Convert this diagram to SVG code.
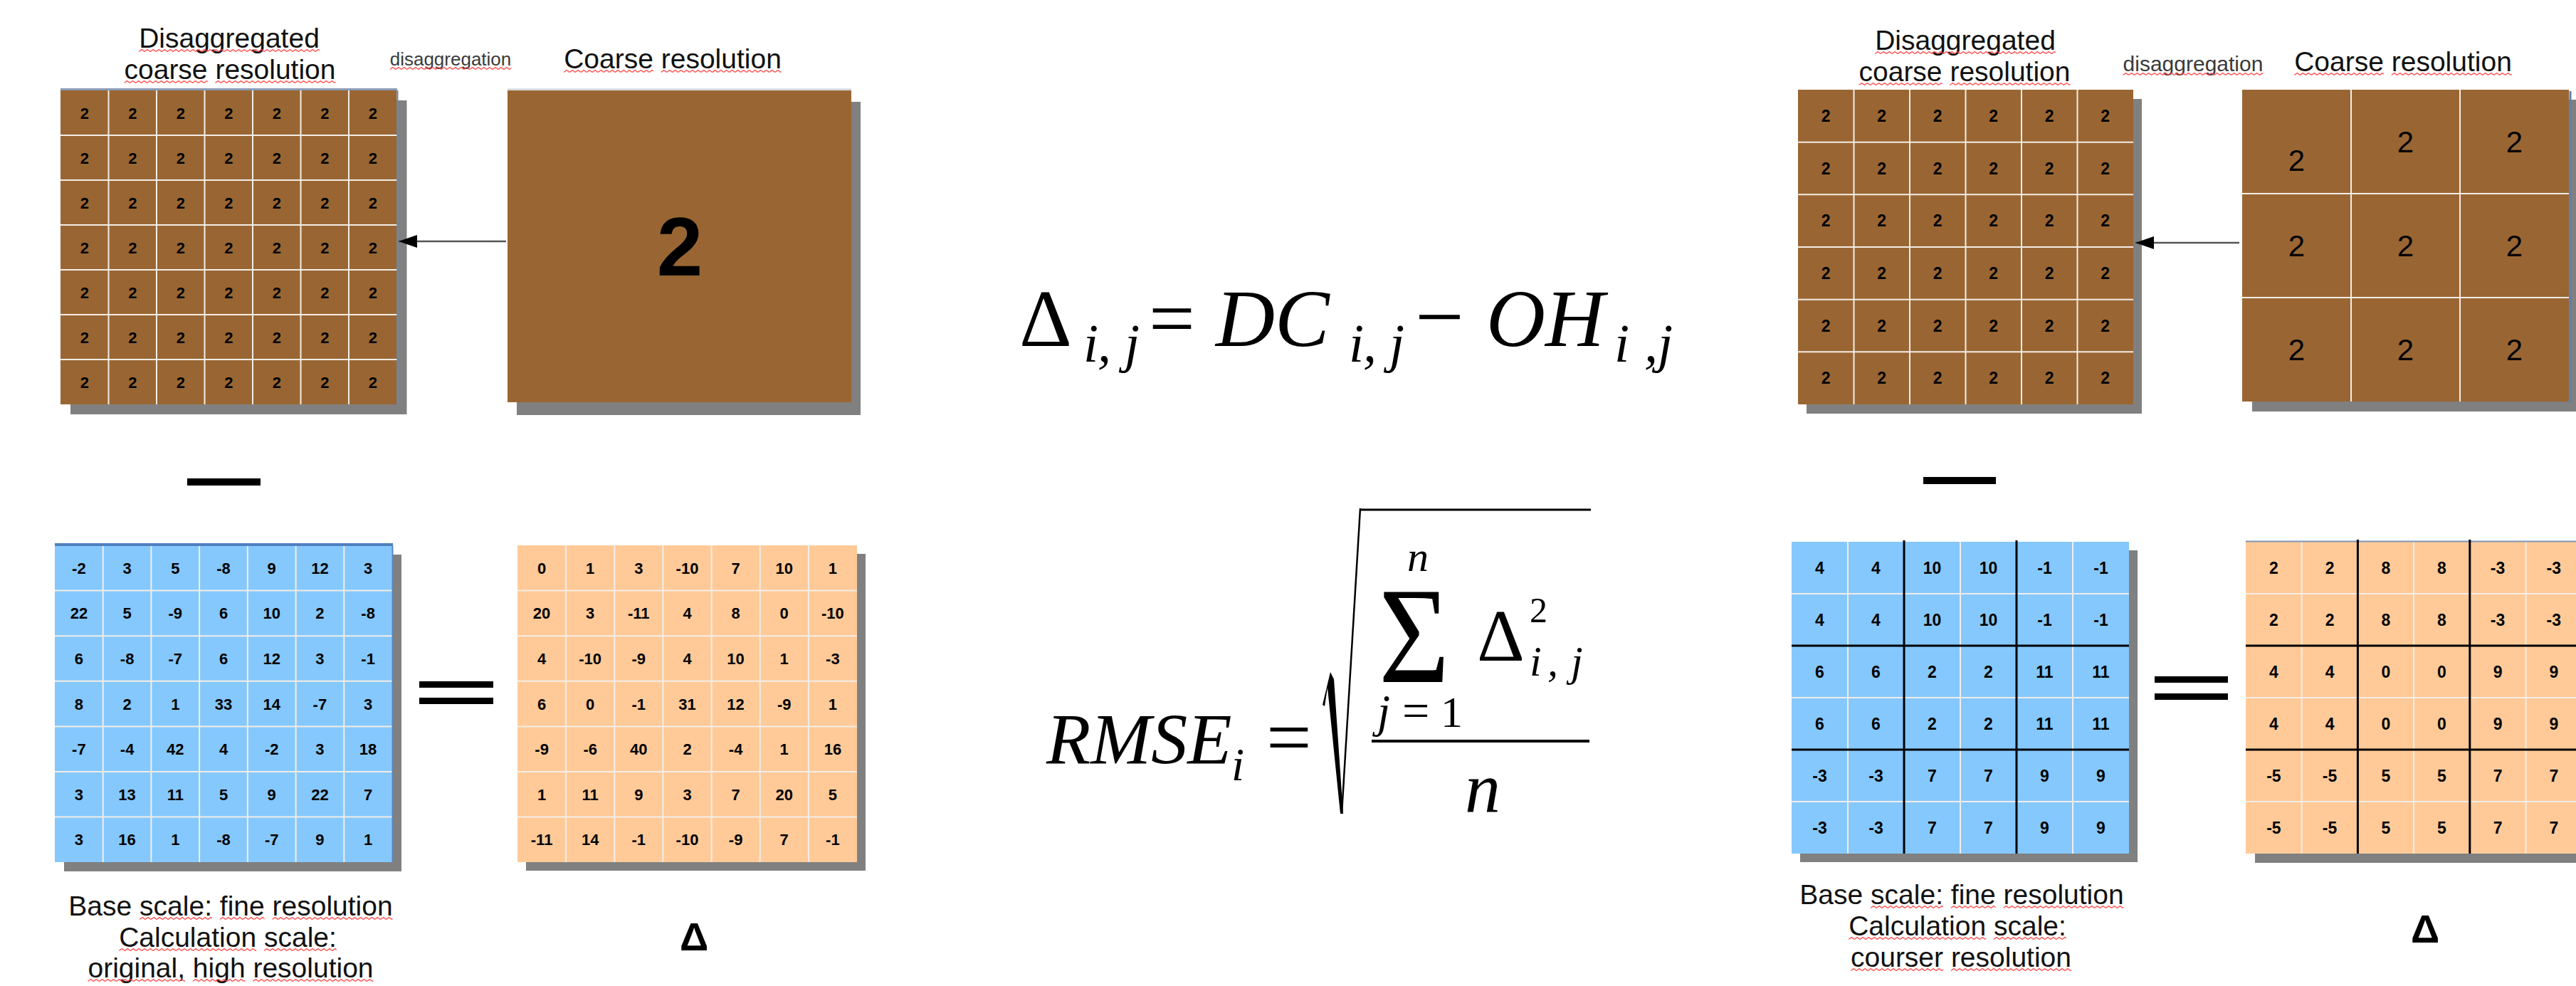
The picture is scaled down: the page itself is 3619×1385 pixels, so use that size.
<svg xmlns="http://www.w3.org/2000/svg" width="3619" height="1385" viewBox="0 0 3619 1385">
<style>
.t{font-family:"Liberation Sans",Arial,sans-serif;fill:#111}
.title{font-size:39px;text-anchor:middle}
.small{font-size:26px;fill:#3a3a3a;text-anchor:middle}
.sm2{font-size:30px;fill:#3a3a3a;text-anchor:middle}
.n{font-family:"Liberation Sans",Arial,sans-serif;font-weight:bold;font-size:22px;text-anchor:middle;fill:#000}
.n2{font-family:"Liberation Sans",Arial,sans-serif;font-weight:bold;font-size:23px;text-anchor:middle;fill:#000}
.big{font-family:"Liberation Sans",Arial,sans-serif;font-weight:bold;text-anchor:middle;fill:#000}
.co{font-family:"Liberation Sans",Arial,sans-serif;font-size:42px;text-anchor:middle;fill:#000}
.m{font-family:"Liberation Serif","Times New Roman",serif;fill:#000}
.mi{font-family:"Liberation Serif","Times New Roman",serif;font-style:italic;fill:#000}
.brown{fill:#996633}
.blue{fill:#85c8fd}
.orange{fill:#ffca98}
.shadow{fill:#808080}
.gl{stroke:#f3ede6;stroke-width:2;fill:none}
.thick{stroke:#000;stroke-width:3;fill:none}
.conn{stroke:#555;stroke-width:2.5;fill:none}
.wv{fill:url(#wave)}
</style>
<defs>
<marker id="ah" markerUnits="userSpaceOnUse" markerWidth="26" markerHeight="18" refX="26" refY="9" orient="auto" viewBox="0 0 26 18">
<path d="M0,0 L26,9 L0,18 z" fill="#000"/>
</marker>
<pattern id="wave" patternUnits="userSpaceOnUse" width="8" height="6">
<path d="M0,4.5 L4,1.5 L8,4.5" fill="none" stroke="#ff3b3b" stroke-width="1.3"/>
</pattern>
</defs>
<rect width="3619" height="1385" fill="#fff"/>

<!-- Left panel titles -->
<g id="left-titles" class="t">
<text class="title" x="322" y="67">Disaggregated</text>
<text class="title" x="323" y="111">coarse resolution</text>
<text class="small" x="633" y="92">disaggregation</text>
<text class="title" x="945" y="96">Coarse resolution</text>
</g>

<!-- Left disaggregated brown grid 7x7 -->
<g id="left-disagg-grid">
<rect class="shadow" x="99" y="141" width="472.5" height="441"/>
<rect class="brown" x="85" y="127" width="472.5" height="441"/>
<path class="gl" d="M152.5 127V568M220 127V568M287.5 127V568M355 127V568M422.5 127V568M490 127V568M85 190H557.5M85 253H557.5M85 316H557.5M85 379H557.5M85 442H557.5M85 505H557.5"/>
<line x1="85" y1="125.5" x2="558" y2="125.5" stroke="#8a9bb5" stroke-width="3"/>
<line x1="558.5" y1="127" x2="558.5" y2="568" stroke="#6b87b5" stroke-width="2"/>
<g class="n">
<text y="166.5"><tspan x="118.75">2</tspan><tspan x="186.25">2</tspan><tspan x="253.75">2</tspan><tspan x="321.25">2</tspan><tspan x="388.75">2</tspan><tspan x="456.25">2</tspan><tspan x="523.75">2</tspan></text>
<text y="229.5"><tspan x="118.75">2</tspan><tspan x="186.25">2</tspan><tspan x="253.75">2</tspan><tspan x="321.25">2</tspan><tspan x="388.75">2</tspan><tspan x="456.25">2</tspan><tspan x="523.75">2</tspan></text>
<text y="292.5"><tspan x="118.75">2</tspan><tspan x="186.25">2</tspan><tspan x="253.75">2</tspan><tspan x="321.25">2</tspan><tspan x="388.75">2</tspan><tspan x="456.25">2</tspan><tspan x="523.75">2</tspan></text>
<text y="355.5"><tspan x="118.75">2</tspan><tspan x="186.25">2</tspan><tspan x="253.75">2</tspan><tspan x="321.25">2</tspan><tspan x="388.75">2</tspan><tspan x="456.25">2</tspan><tspan x="523.75">2</tspan></text>
<text y="418.5"><tspan x="118.75">2</tspan><tspan x="186.25">2</tspan><tspan x="253.75">2</tspan><tspan x="321.25">2</tspan><tspan x="388.75">2</tspan><tspan x="456.25">2</tspan><tspan x="523.75">2</tspan></text>
<text y="481.5"><tspan x="118.75">2</tspan><tspan x="186.25">2</tspan><tspan x="253.75">2</tspan><tspan x="321.25">2</tspan><tspan x="388.75">2</tspan><tspan x="456.25">2</tspan><tspan x="523.75">2</tspan></text>
<text y="544.5"><tspan x="118.75">2</tspan><tspan x="186.25">2</tspan><tspan x="253.75">2</tspan><tspan x="321.25">2</tspan><tspan x="388.75">2</tspan><tspan x="456.25">2</tspan><tspan x="523.75">2</tspan></text>
</g>
</g>

<!-- Left coarse box -->
<g id="left-coarse">
<rect class="shadow" x="726" y="143" width="483" height="440"/>
<rect class="brown" x="713" y="127" width="483" height="438"/>
<line x1="713" y1="125.5" x2="1196" y2="125.5" stroke="#c9cfd8" stroke-width="2"/>
<text class="big" x="955" y="387" font-size="116">2</text>
</g>

<!-- Left minus -->
<rect id="left-minus" x="263" y="672" width="103" height="10" fill="#000"/>

<!-- Left blue grid 7x7 -->
<g id="left-fine-grid">
<rect class="shadow" x="90" y="779" width="474" height="445"/>
<rect class="blue" x="77" y="766" width="474" height="445"/>
<path class="gl" d="M144.7 766V1211M212.4 766V1211M280.1 766V1211M347.9 766V1211M415.6 766V1211M483.3 766V1211M77 829.6H551M77 893.2H551M77 956.8H551M77 1020.4H551M77 1084H551M77 1147.6H551"/>
<line x1="77" y1="765" x2="552" y2="765" stroke="#4f80bf" stroke-width="4"/>
<line x1="551.5" y1="766" x2="551.5" y2="1211" stroke="#5b86c2" stroke-width="2"/>
<g class="n">
<text y="805.8"><tspan x="110.9">-2</tspan><tspan x="178.6">3</tspan><tspan x="246.3">5</tspan><tspan x="314">-8</tspan><tspan x="381.7">9</tspan><tspan x="449.4">12</tspan><tspan x="517.1">3</tspan></text>
<text y="869.4"><tspan x="110.9">22</tspan><tspan x="178.6">5</tspan><tspan x="246.3">-9</tspan><tspan x="314">6</tspan><tspan x="381.7">10</tspan><tspan x="449.4">2</tspan><tspan x="517.1">-8</tspan></text>
<text y="933"><tspan x="110.9">6</tspan><tspan x="178.6">-8</tspan><tspan x="246.3">-7</tspan><tspan x="314">6</tspan><tspan x="381.7">12</tspan><tspan x="449.4">3</tspan><tspan x="517.1">-1</tspan></text>
<text y="996.6"><tspan x="110.9">8</tspan><tspan x="178.6">2</tspan><tspan x="246.3">1</tspan><tspan x="314">33</tspan><tspan x="381.7">14</tspan><tspan x="449.4">-7</tspan><tspan x="517.1">3</tspan></text>
<text y="1060.2"><tspan x="110.9">-7</tspan><tspan x="178.6">-4</tspan><tspan x="246.3">42</tspan><tspan x="314">4</tspan><tspan x="381.7">-2</tspan><tspan x="449.4">3</tspan><tspan x="517.1">18</tspan></text>
<text y="1123.8"><tspan x="110.9">3</tspan><tspan x="178.6">13</tspan><tspan x="246.3">11</tspan><tspan x="314">5</tspan><tspan x="381.7">9</tspan><tspan x="449.4">22</tspan><tspan x="517.1">7</tspan></text>
<text y="1187.4"><tspan x="110.9">3</tspan><tspan x="178.6">16</tspan><tspan x="246.3">1</tspan><tspan x="314">-8</tspan><tspan x="381.7">-7</tspan><tspan x="449.4">9</tspan><tspan x="517.1">1</tspan></text>
</g>
</g>

<!-- Left equals -->
<g id="left-equals" fill="#000">
<rect x="589" y="957" width="104" height="9"/>
<rect x="589" y="980" width="104" height="9"/>
</g>

<!-- Left orange grid 7x7 -->
<g id="left-delta-grid">
<rect class="shadow" x="739" y="778" width="477" height="445"/>
<rect class="orange" x="727" y="766" width="477" height="445"/>
<path class="gl" d="M795.1 766V1211M863.3 766V1211M931.4 766V1211M999.6 766V1211M1067.7 766V1211M1135.9 766V1211M727 829.6H1204M727 893.2H1204M727 956.8H1204M727 1020.4H1204M727 1084H1204M727 1147.6H1204"/>
<g class="n">
<text y="805.8"><tspan x="761.1">0</tspan><tspan x="829.2">1</tspan><tspan x="897.3">3</tspan><tspan x="965.5">-10</tspan><tspan x="1033.6">7</tspan><tspan x="1101.7">10</tspan><tspan x="1169.9">1</tspan></text>
<text y="869.4"><tspan x="761.1">20</tspan><tspan x="829.2">3</tspan><tspan x="897.3">-11</tspan><tspan x="965.5">4</tspan><tspan x="1033.6">8</tspan><tspan x="1101.7">0</tspan><tspan x="1169.9">-10</tspan></text>
<text y="933"><tspan x="761.1">4</tspan><tspan x="829.2">-10</tspan><tspan x="897.3">-9</tspan><tspan x="965.5">4</tspan><tspan x="1033.6">10</tspan><tspan x="1101.7">1</tspan><tspan x="1169.9">-3</tspan></text>
<text y="996.6"><tspan x="761.1">6</tspan><tspan x="829.2">0</tspan><tspan x="897.3">-1</tspan><tspan x="965.5">31</tspan><tspan x="1033.6">12</tspan><tspan x="1101.7">-9</tspan><tspan x="1169.9">1</tspan></text>
<text y="1060.2"><tspan x="761.1">-9</tspan><tspan x="829.2">-6</tspan><tspan x="897.3">40</tspan><tspan x="965.5">2</tspan><tspan x="1033.6">-4</tspan><tspan x="1101.7">1</tspan><tspan x="1169.9">16</tspan></text>
<text y="1123.8"><tspan x="761.1">1</tspan><tspan x="829.2">11</tspan><tspan x="897.3">9</tspan><tspan x="965.5">3</tspan><tspan x="1033.6">7</tspan><tspan x="1101.7">20</tspan><tspan x="1169.9">5</tspan></text>
<text y="1187.4"><tspan x="761.1">-11</tspan><tspan x="829.2">14</tspan><tspan x="897.3">-1</tspan><tspan x="965.5">-10</tspan><tspan x="1033.6">-9</tspan><tspan x="1101.7">7</tspan><tspan x="1169.9">-1</tspan></text>
</g>
</g>

<!-- Left bottom captions -->
<g id="left-captions" class="t">
<text class="title" x="324" y="1286">Base scale: fine resolution</text>
<text class="title" x="320" y="1330">Calculation scale:</text>
<text class="title" x="324" y="1373">original, high resolution</text>
<text class="big" x="975" y="1335" font-size="56">Δ</text>
</g>

<!-- Formula 1 -->
<g id="formula-delta">
<text class="m" x="1432" y="486" font-size="115">Δ</text>
<text class="mi" y="508" font-size="76"><tspan x="1522">i</tspan><tspan x="1542">,</tspan><tspan x="1580">j</tspan></text>
<text class="m" x="1614" y="486" font-size="115">=</text>
<text class="mi" x="1708" y="486" font-size="115">DC</text>
<text class="mi" y="508" font-size="76"><tspan x="1895">i</tspan><tspan x="1915">,</tspan><tspan x="1952">j</tspan></text>
<text class="m" x="1988" y="486" font-size="122">−</text>
<text class="mi" x="2088" y="486" font-size="115">OH</text>
<text class="mi" y="508" font-size="76"><tspan x="2268">i</tspan><tspan x="2310">,</tspan><tspan x="2329">j</tspan></text>
</g>

<!-- Formula 2 -->
<g id="formula-rmse">
<text class="mi" x="1470" y="1073" font-size="102">RMSE</text>
<text class="mi" x="1730" y="1096" font-size="65">i</text>
<text class="m" x="1779" y="1073" font-size="113">=</text>
<polygon points="1858,990 1869,944 1874,954 1887,1143 1883,1143 1865,966 1861,992" fill="#000"/>
<line x1="1885" y1="1143" x2="1911" y2="714" stroke="#000" stroke-width="2.5"/>
<line x1="1910" y1="716" x2="2235" y2="716" stroke="#000" stroke-width="3"/>
<text class="mi" x="1977" y="802" font-size="60">n</text>
<text class="m" transform="translate(1937,958) scale(0.886,1)" font-size="193">Σ</text>
<text class="m" x="2075" y="928" font-size="104">Δ</text>
<text class="m" x="2149" y="874" font-size="50">2</text>
<text class="mi" y="949" font-size="60"><tspan x="2149">i</tspan><tspan x="2174">,</tspan><tspan x="2207">j</tspan></text>
<text class="mi" x="1935" y="1021" font-size="65">j</text>
<text class="m" x="1970" y="1021" font-size="68">=</text>
<text class="m" x="2024" y="1021" font-size="62">1</text>
<rect x="1927" y="1039" width="306" height="4" fill="#000"/>
<text class="mi" x="2058" y="1140" font-size="100">n</text>
</g>

<!-- Right panel titles -->
<g id="right-titles" class="t">
<text class="title" x="2761" y="70">Disaggregated</text>
<text class="title" x="2760" y="114">coarse resolution</text>
<text class="sm2" x="3081" y="100">disaggregation</text>
<text class="title" x="3376" y="100">Coarse resolution</text>
</g>

<!-- Right disaggregated brown grid 6x6 -->
<g id="right-disagg-grid">
<rect class="shadow" x="2538" y="139" width="471" height="442"/>
<rect class="brown" x="2526" y="126" width="471" height="442"/>
<path class="gl" d="M2604.5 126V568M2683 126V568M2761.5 126V568M2840 126V568M2918.5 126V568M2526 199.7H2997M2526 273.3H2997M2526 347H2997M2526 420.7H2997M2526 494.3H2997"/>
<g class="n2">
<text y="170.8"><tspan x="2565.25">2</tspan><tspan x="2643.75">2</tspan><tspan x="2722.25">2</tspan><tspan x="2800.75">2</tspan><tspan x="2879.25">2</tspan><tspan x="2957.75">2</tspan></text>
<text y="244.5"><tspan x="2565.25">2</tspan><tspan x="2643.75">2</tspan><tspan x="2722.25">2</tspan><tspan x="2800.75">2</tspan><tspan x="2879.25">2</tspan><tspan x="2957.75">2</tspan></text>
<text y="318.2"><tspan x="2565.25">2</tspan><tspan x="2643.75">2</tspan><tspan x="2722.25">2</tspan><tspan x="2800.75">2</tspan><tspan x="2879.25">2</tspan><tspan x="2957.75">2</tspan></text>
<text y="391.8"><tspan x="2565.25">2</tspan><tspan x="2643.75">2</tspan><tspan x="2722.25">2</tspan><tspan x="2800.75">2</tspan><tspan x="2879.25">2</tspan><tspan x="2957.75">2</tspan></text>
<text y="465.5"><tspan x="2565.25">2</tspan><tspan x="2643.75">2</tspan><tspan x="2722.25">2</tspan><tspan x="2800.75">2</tspan><tspan x="2879.25">2</tspan><tspan x="2957.75">2</tspan></text>
<text y="539.2"><tspan x="2565.25">2</tspan><tspan x="2643.75">2</tspan><tspan x="2722.25">2</tspan><tspan x="2800.75">2</tspan><tspan x="2879.25">2</tspan><tspan x="2957.75">2</tspan></text>
</g>
</g>

<!-- Right coarse 3x3 grid -->
<g id="right-coarse-grid">
<rect class="shadow" x="3164" y="140" width="459" height="438"/>
<rect class="brown" x="3150" y="126" width="459" height="438"/>
<path class="gl" d="M3303 126V564M3456 126V564M3150 272H3609M3150 418H3609"/>
<line x1="3611" y1="128" x2="3611" y2="566" stroke="#5f7ea8" stroke-width="3"/>
<g class="co">
<text x="3226.5" y="240">2</text><text x="3379.5" y="214">2</text><text x="3532.5" y="214">2</text>
<text x="3226.5" y="360">2</text><text x="3379.5" y="360">2</text><text x="3532.5" y="360">2</text>
<text x="3226.5" y="506">2</text><text x="3379.5" y="506">2</text><text x="3532.5" y="506">2</text>
</g>
</g>

<!-- Right minus -->
<rect id="right-minus" x="2702" y="670" width="102" height="10" fill="#000"/>

<!-- Right blue grid 6x6 -->
<g id="right-fine-grid">
<rect class="shadow" x="2529" y="773" width="474" height="438"/>
<rect class="blue" x="2517" y="761" width="474" height="438"/>
<path class="gl" d="M2596 761V1199M2754 761V1199M2912 761V1199M2517 834H2991M2517 980H2991M2517 1126H2991"/>
<path class="thick" d="M2675 759V1199M2833 759V1199M2517 907H2991M2517 1053H2991"/>
<g class="n2">
<text y="806"><tspan x="2556.5">4</tspan><tspan x="2635.5">4</tspan><tspan x="2714.5">10</tspan><tspan x="2793.5">10</tspan><tspan x="2872.5">-1</tspan><tspan x="2951.5">-1</tspan></text>
<text y="879"><tspan x="2556.5">4</tspan><tspan x="2635.5">4</tspan><tspan x="2714.5">10</tspan><tspan x="2793.5">10</tspan><tspan x="2872.5">-1</tspan><tspan x="2951.5">-1</tspan></text>
<text y="952"><tspan x="2556.5">6</tspan><tspan x="2635.5">6</tspan><tspan x="2714.5">2</tspan><tspan x="2793.5">2</tspan><tspan x="2872.5">11</tspan><tspan x="2951.5">11</tspan></text>
<text y="1025"><tspan x="2556.5">6</tspan><tspan x="2635.5">6</tspan><tspan x="2714.5">2</tspan><tspan x="2793.5">2</tspan><tspan x="2872.5">11</tspan><tspan x="2951.5">11</tspan></text>
<text y="1098"><tspan x="2556.5">-3</tspan><tspan x="2635.5">-3</tspan><tspan x="2714.5">7</tspan><tspan x="2793.5">7</tspan><tspan x="2872.5">9</tspan><tspan x="2951.5">9</tspan></text>
<text y="1171"><tspan x="2556.5">-3</tspan><tspan x="2635.5">-3</tspan><tspan x="2714.5">7</tspan><tspan x="2793.5">7</tspan><tspan x="2872.5">9</tspan><tspan x="2951.5">9</tspan></text>
</g>
</g>

<!-- Right equals -->
<g id="right-equals" fill="#000">
<rect x="3027" y="950" width="103" height="9"/>
<rect x="3027" y="974" width="103" height="9"/>
</g>

<!-- Right orange grid 6x6 -->
<g id="right-delta-grid">
<rect class="shadow" x="3168" y="774" width="472" height="438"/>
<rect class="orange" x="3155" y="761" width="472" height="438"/>
<path class="gl" d="M3233.7 761V1199M3391.1 761V1199M3548.5 761V1199M3155 834H3627M3155 980H3627M3155 1126H3627"/>
<line x1="3155" y1="760.5" x2="3619" y2="760.5" stroke="#7e98b8" stroke-width="2"/>
<path class="thick" d="M3312.4 758V1199M3469.8 758V1199M3155 907H3627M3155 1053H3627"/>
<g class="n2">
<text y="806"><tspan x="3194.4">2</tspan><tspan x="3273.1">2</tspan><tspan x="3351.8">8</tspan><tspan x="3430.4">8</tspan><tspan x="3509.1">-3</tspan><tspan x="3587.8">-3</tspan></text>
<text y="879"><tspan x="3194.4">2</tspan><tspan x="3273.1">2</tspan><tspan x="3351.8">8</tspan><tspan x="3430.4">8</tspan><tspan x="3509.1">-3</tspan><tspan x="3587.8">-3</tspan></text>
<text y="952"><tspan x="3194.4">4</tspan><tspan x="3273.1">4</tspan><tspan x="3351.8">0</tspan><tspan x="3430.4">0</tspan><tspan x="3509.1">9</tspan><tspan x="3587.8">9</tspan></text>
<text y="1025"><tspan x="3194.4">4</tspan><tspan x="3273.1">4</tspan><tspan x="3351.8">0</tspan><tspan x="3430.4">0</tspan><tspan x="3509.1">9</tspan><tspan x="3587.8">9</tspan></text>
<text y="1098"><tspan x="3194.4">-5</tspan><tspan x="3273.1">-5</tspan><tspan x="3351.8">5</tspan><tspan x="3430.4">5</tspan><tspan x="3509.1">7</tspan><tspan x="3587.8">7</tspan></text>
<text y="1171"><tspan x="3194.4">-5</tspan><tspan x="3273.1">-5</tspan><tspan x="3351.8">5</tspan><tspan x="3430.4">5</tspan><tspan x="3509.1">7</tspan><tspan x="3587.8">7</tspan></text>
</g>
</g>

<!-- Right bottom captions -->
<g id="right-captions" class="t">
<text class="title" x="2756" y="1270">Base scale: fine resolution</text>
<text class="title" x="2750" y="1314">Calculation scale:</text>
<text class="title" x="2755" y="1358">courser resolution</text>
<text class="big" x="3407" y="1324" font-size="56">Δ</text>
</g>

<!-- Spell-check squiggles under words -->
<g id="squiggles">
<rect class="wv" transform="translate(195.2,68)" width="253.6" height="6"/>
<rect class="wv" transform="translate(174.6,112)" width="117" height="6"/>
<rect class="wv" transform="translate(302.4,112)" width="169.1" height="6"/>
<rect class="wv" transform="translate(547.8,93)" width="170.5" height="6"/>
<rect class="wv" transform="translate(792.2,97)" width="125.7" height="6"/>
<rect class="wv" transform="translate(928.7,97)" width="169.1" height="6"/>
<rect class="wv" transform="translate(196.1,1287)" width="101.9" height="6"/>
<rect class="wv" transform="translate(308.8,1287)" width="62.9" height="6"/>
<rect class="wv" transform="translate(382.5,1287)" width="169.1" height="6"/>
<rect class="wv" transform="translate(167.2,1331)" width="192.9" height="6"/>
<rect class="wv" transform="translate(370.9,1331)" width="101.9" height="6"/>
<rect class="wv" transform="translate(123.5,1374)" width="136.5" height="6"/>
<rect class="wv" transform="translate(270.8,1374)" width="73.7" height="6"/>
<rect class="wv" transform="translate(355.3,1374)" width="169.1" height="6"/>
<rect class="wv" transform="translate(2634.2,71)" width="253.6" height="6"/>
<rect class="wv" transform="translate(2611.6,115)" width="117" height="6"/>
<rect class="wv" transform="translate(2739.4,115)" width="169.1" height="6"/>
<rect class="wv" transform="translate(2982.6,101)" width="196.8" height="6"/>
<rect class="wv" transform="translate(3223.2,101)" width="125.7" height="6"/>
<rect class="wv" transform="translate(3359.7,101)" width="169.1" height="6"/>
<rect class="wv" transform="translate(2628.1,1271)" width="101.9" height="6"/>
<rect class="wv" transform="translate(2740.8,1271)" width="62.9" height="6"/>
<rect class="wv" transform="translate(2814.5,1271)" width="169.1" height="6"/>
<rect class="wv" transform="translate(2597.2,1315)" width="192.9" height="6"/>
<rect class="wv" transform="translate(2800.9,1315)" width="101.9" height="6"/>
<rect class="wv" transform="translate(2600.1,1359)" width="130" height="6"/>
<rect class="wv" transform="translate(2740.9,1359)" width="169.1" height="6"/>
</g>

<!-- Connectors -->
<g id="connectors">
<line class="conn" x1="711" y1="339" x2="560" y2="339" marker-end="url(#ah)"/>
<line class="conn" x1="3146" y1="341" x2="3000" y2="341" marker-end="url(#ah)"/>
</g>
</svg>
